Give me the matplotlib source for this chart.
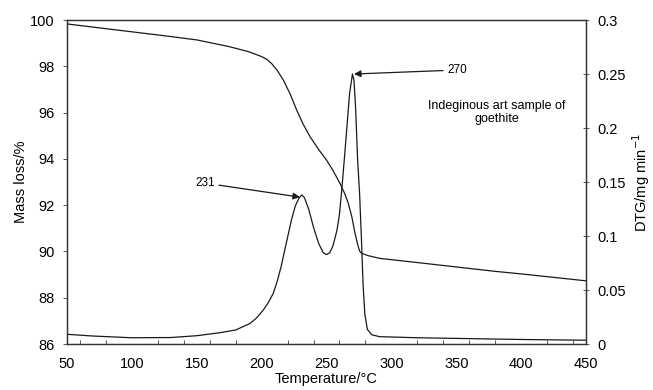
"""
TG / DTG curves for an indigenous art sample of goethite
"""

import matplotlib
matplotlib.use('Agg')
import matplotlib.pyplot as plt
from matplotlib.ticker import MultipleLocator, FormatStrFormatter

plt.rcParams['font.family'] = ['Liberation Sans', 'DejaVu Sans']

# Mass loss (TG) curve, left axis
tg_temp = [50, 75, 100, 125, 150, 175, 190, 200, 204, 208, 212, 216.7, 222, 227, 232,
           237.3, 244, 250, 255, 260.4, 264, 266.8, 269.5, 272, 274, 275.5, 277,
           282, 291, 320, 350, 380, 400, 425, 450]
tg_mass = [99.83, 99.66, 99.49, 99.32, 99.14, 98.85, 98.63, 98.42, 98.3, 98.1, 97.82,
           97.41, 96.8, 96.11, 95.5, 94.96, 94.4, 93.95, 93.5, 92.94, 92.5, 92.08,
           91.5, 90.78, 90.3, 90.02, 89.92, 89.82, 89.7, 89.52, 89.33, 89.14, 89.03,
           88.88, 88.73]

# Derivative (DTG) curve, right axis
dtg_temp = [50, 70, 100, 130, 150, 168, 180, 191, 196, 201.3, 205, 209, 212, 215,
            219.3, 223, 226, 229, 231, 233, 236.5, 240, 244, 247.5, 250, 252.5, 255,
            258, 260, 262, 264, 266, 267.8, 270, 271.2, 272.5, 274, 275.5, 277, 278.2,
            279.5, 281.5, 285, 291, 320, 350, 400, 450]
dtg_val = [0.009, 0.0074, 0.0058, 0.006, 0.0077, 0.0105, 0.013, 0.019, 0.024, 0.0315,
           0.038, 0.047, 0.058, 0.0716, 0.095, 0.115, 0.128, 0.1355, 0.138, 0.1355,
           0.124, 0.108, 0.093, 0.0845, 0.0828, 0.0845, 0.091, 0.105, 0.12, 0.146,
           0.175, 0.205, 0.232, 0.25, 0.244, 0.217, 0.17, 0.1395, 0.095, 0.055, 0.028,
           0.0135, 0.0085, 0.0068, 0.0058, 0.0052, 0.0042, 0.0035]

peak_labels = [231, 270]
peak_heights = [0.138, 0.25]

line_col = '#1a1a1a'

fig = plt.figure(figsize=(6.53, 3.90), dpi=100)
ax = fig.add_axes([0.1026, 0.1179, 0.7948, 0.8308])
ax2 = ax.twinx()

ax.plot(tg_temp, tg_mass, color=line_col, linewidth=0.9)
ax2.plot(dtg_temp, dtg_val, color=line_col, linewidth=0.9)

ax.set_xlim(50, 450)
ax.set_ylim(86, 100)
ax2.set_ylim(0, 0.3)

ax.xaxis.set_major_locator(MultipleLocator(50))
ax.xaxis.set_minor_locator(MultipleLocator(20))
ax.yaxis.set_major_locator(MultipleLocator(2))
ax2.yaxis.set_major_locator(MultipleLocator(0.05))
ax2.yaxis.set_major_formatter(FormatStrFormatter('%g'))

ax.tick_params(axis='x', which='major', direction='in', length=0, labelsize=10.5, pad=9)
ax.tick_params(axis='x', which='minor', direction='in', length=3, width=0.7, color='#555555')
ax.tick_params(axis='y', direction='out', length=3, width=0.7, labelsize=10.5, pad=6,
               color='#555555')
ax2.tick_params(axis='y', direction='inout', length=5, width=0.7, labelsize=10.5, pad=6,
                color='#555555')

for a in (ax, ax2):
    for s in a.spines.values():
        s.set_linewidth(0.9)
        s.set_color('#333333')

ax.set_xlabel('Temperature/°C', fontsize=10.5, labelpad=1)
ax.set_ylabel('Mass loss/%', fontsize=10.5, labelpad=1)
ax2.set_ylabel('DTG/mg min$^{-1}$', fontsize=10.5, labelpad=3)

# Arrows marking the two DTG peaks
ax2.annotate(str(peak_labels[0]), xy=(peak_labels[0] - 1.5, peak_heights[0] - 0.002),
             xytext=(164, 0.149), fontsize=8.5, ha='right', va='center',
             arrowprops=dict(arrowstyle='-|>', color=line_col, lw=0.9,
                             mutation_scale=10, shrinkA=1, shrinkB=0))
ax2.annotate(str(peak_labels[1]), xy=(peak_labels[1] + 1.2, peak_heights[1]),
             xytext=(343, 0.2537), fontsize=8.5, ha='left', va='center',
             arrowprops=dict(arrowstyle='-|>', color=line_col, lw=0.9,
                             mutation_scale=10, shrinkA=1, shrinkB=0))

ax2.text(381, 0.2145, 'Indeginous art sample of\ngoethite', fontsize=9,
         ha='center', va='center', linespacing=1.1)

plt.savefig('out.png', dpi=100)
